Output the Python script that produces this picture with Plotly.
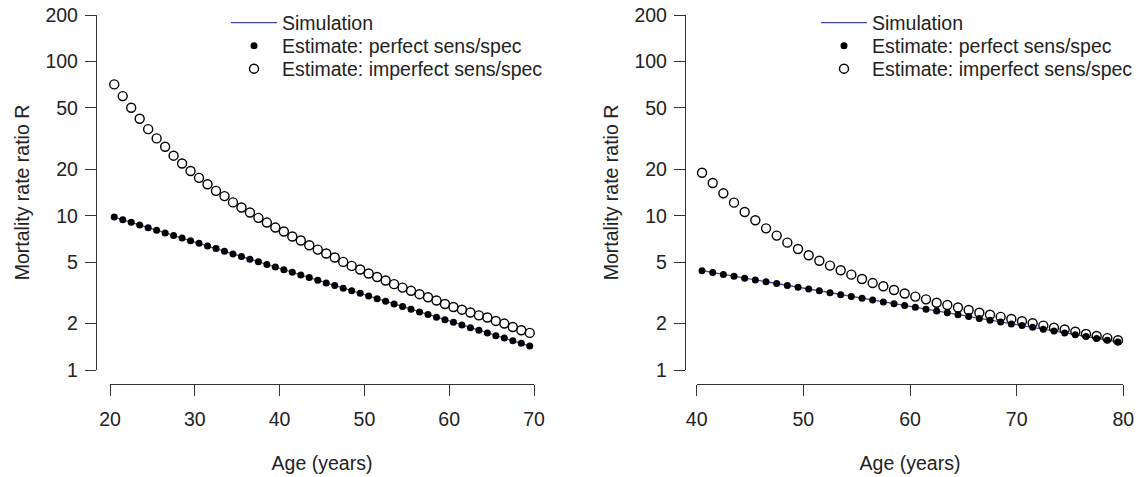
import plotly.graph_objects as go
import math

# ---------------- data ----------------
age_left = [20.5 + i for i in range(50)]
perfect_left = [9.80, 9.42, 9.06, 8.71, 8.37, 8.05, 7.74, 7.44, 7.16, 6.88,
                6.62, 6.36, 6.12, 5.88, 5.65, 5.44, 5.23, 5.03, 4.83, 4.65,
                4.47, 4.30, 4.13, 3.97, 3.82, 3.67, 3.53, 3.39, 3.26, 3.14,
                3.02, 2.90, 2.79, 2.68, 2.58, 2.48, 2.38, 2.29, 2.20, 2.12,
                2.04, 1.96, 1.88, 1.81, 1.74, 1.67, 1.61, 1.55, 1.49, 1.43]
imperfect_left = [71.0, 59.6, 50.1, 42.5, 36.4, 31.7, 28.0, 24.5, 21.8, 19.5,
                  17.6, 16.0, 14.5, 13.4, 12.2, 11.3, 10.5, 9.69, 9.03, 8.38,
                  7.90, 7.33, 6.91, 6.44, 6.03, 5.69, 5.36, 5.02, 4.73, 4.48,
                  4.22, 4.01, 3.80, 3.60, 3.42, 3.26, 3.10, 2.96, 2.82, 2.68,
                  2.56, 2.46, 2.36, 2.26, 2.19, 2.08, 2.00, 1.90, 1.81, 1.74]
simulation_left = perfect_left

age_right = [40.5 + i for i in range(40)]
perfect_right = [4.40, 4.28, 4.16, 4.05, 3.94, 3.83, 3.73, 3.63, 3.53, 3.44,
                 3.35, 3.26, 3.17, 3.08, 3.00, 2.92, 2.84, 2.76, 2.69, 2.62,
                 2.55, 2.48, 2.41, 2.35, 2.28, 2.22, 2.16, 2.10, 2.05, 1.99,
                 1.94, 1.89, 1.84, 1.79, 1.74, 1.69, 1.65, 1.60, 1.56, 1.52]
imperfect_right = [19.0, 16.3, 13.97, 12.15, 10.57, 9.34, 8.28, 7.43, 6.69, 6.09,
                   5.54, 5.11, 4.75, 4.43, 4.15, 3.89, 3.66, 3.49, 3.30, 3.13,
                   2.99, 2.87, 2.73, 2.64, 2.54, 2.45, 2.35, 2.28, 2.21, 2.14,
                   2.07, 2.01, 1.94, 1.88, 1.83, 1.77, 1.71, 1.66, 1.61, 1.56]
simulation_right = perfect_right

y_ticks = [1, 2, 5, 10, 20, 50, 100, 200]
x_ticks_left = [20, 30, 40, 50, 60, 70]
x_ticks_right = [40, 50, 60, 70, 80]

names = ["Simulation", "Estimate: perfect sens/spec", "Estimate: imperfect sens/spec"]

# ---------------- style ----------------
W, H = 1138, 477
FONT = "Liberation Sans, Arial, sans-serif"
FS = 19.5
TXT = "#222222"
AXC = "#333333"
LINEC = "#4646A8"

fig = go.Figure()

def add_panel(ages, sim, perf, imp, xa, ya, legs):
    fig.add_trace(go.Scatter(x=ages, y=sim, mode="lines", name=names[0],
                             line=dict(color=LINEC, width=1.3), showlegend=True,
                             xaxis=xa, yaxis=ya, legend=legs[0], cliponaxis=False))
    fig.add_trace(go.Scatter(x=ages, y=perf, mode="markers", name=names[1],
                             marker=dict(symbol="circle", size=7, color="black"),
                             showlegend=True,
                             xaxis=xa, yaxis=ya, legend=legs[1], cliponaxis=False))
    fig.add_trace(go.Scatter(x=ages, y=imp, mode="markers", name=names[2],
                             marker=dict(symbol="circle-open", size=9, color="black",
                                         line=dict(width=1.4, color="black")),
                             showlegend=True,
                             xaxis=xa, yaxis=ya, legend=legs[2], cliponaxis=False))

add_panel(age_left, simulation_left, perfect_left, imperfect_left, "x", "y",
          ["legend", "legend2", "legend3"])
add_panel(age_right, simulation_right, perfect_right, imperfect_right, "x2", "y2",
          ["legend4", "legend5", "legend6"])

ydom = [(H - 370) / H, (H - 15) / H]
xpos = (H - 384) / H

common_x = dict(showline=True, linecolor=AXC, linewidth=1.3, ticks="outside",
                ticklen=11, tickwidth=1.3, tickcolor=AXC, showgrid=False,
                zeroline=False, anchor="free", position=xpos, automargin=False,
                tickfont=dict(family=FONT, size=FS, color=TXT),
                ticklabelstandoff=6,
                title=dict(text="Age (years)", font=dict(family=FONT, size=FS, color=TXT),
                           standoff=27))
common_y = dict(type="log", range=[0, math.log10(200)], domain=ydom,
                showline=True, linecolor=AXC, linewidth=1.3, ticks="outside",
                ticklen=11, tickwidth=1.3, tickcolor=AXC, showgrid=False,
                zeroline=False, anchor="free", automargin=False,
                tickvals=y_ticks, ticktext=[str(v) for v in y_ticks],
                tickfont=dict(family=FONT, size=FS, color=TXT),
                ticklabelstandoff=3,
                title=dict(text="Mortality rate ratio R",
                           font=dict(family=FONT, size=FS, color=TXT), standoff=9))

def leg(xpix, ypix):
    return dict(x=xpix / W, y=1 - ypix / H, xanchor="left", yanchor="middle",
                bgcolor="rgba(0,0,0,0)", borderwidth=0, itemwidth=46,
                font=dict(family=FONT, size=FS, color=TXT))

rows = [23, 46, 69]
fig.update_layout(
    template="none",
    showlegend=True,
    width=W, height=H,
    margin=dict(l=0, r=0, t=0, b=0, autoexpand=False),
    paper_bgcolor="white", plot_bgcolor="white",
    font=dict(family=FONT, size=FS, color=TXT),
    xaxis=dict(domain=[110 / W, 534 / W], range=[20, 70], tickvals=x_ticks_left, **common_x),
    yaxis=dict(position=96 / W, **common_y),
    xaxis2=dict(domain=[696.7 / W, 1123.3 / W], range=[40, 80], tickvals=x_ticks_right, **common_x),
    yaxis2=dict(position=685 / W, **common_y),
    legend=leg(226, rows[0]), legend2=leg(226, rows[1]), legend3=leg(226, rows[2]),
    legend4=leg(816, rows[0]), legend5=leg(816, rows[1]), legend6=leg(816, rows[2]),
)

fig.write_html("out.html", config={"displayModeBar": False},
               post_script="document.body.style.margin='0';")
